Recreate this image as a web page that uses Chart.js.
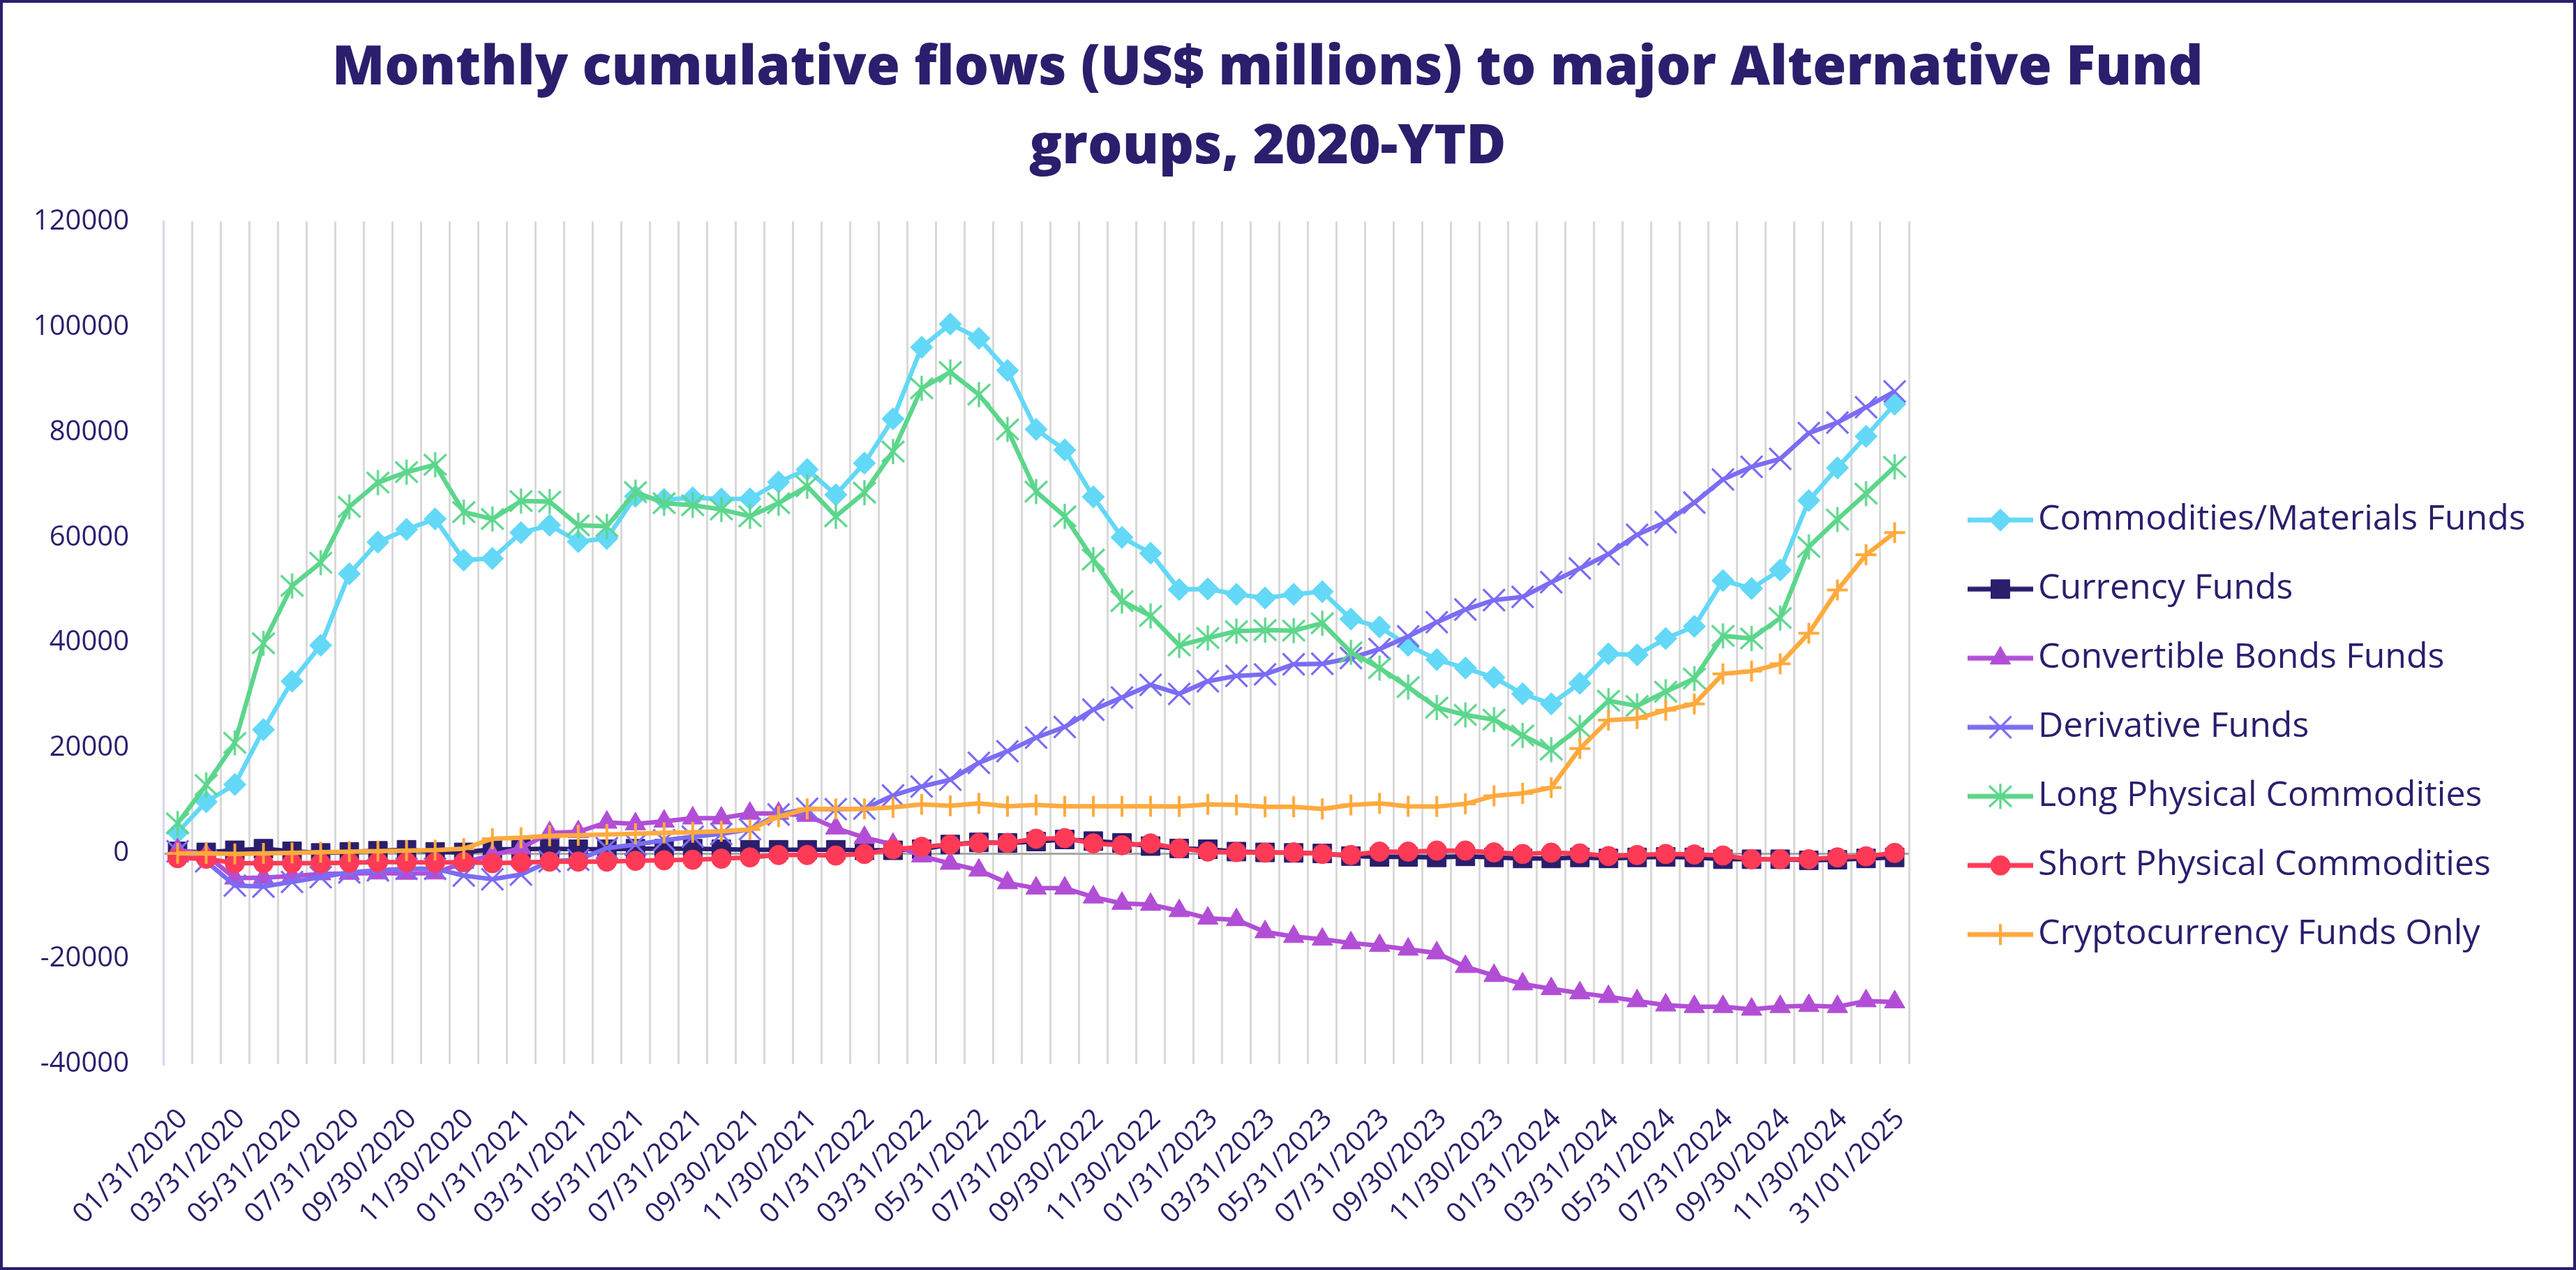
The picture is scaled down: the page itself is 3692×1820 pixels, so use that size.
<!DOCTYPE html>
<html>
<head>
<meta charset="utf-8">
<title>Monthly cumulative flows to major Alternative Fund groups</title>
<script src="https://cdn.jsdelivr.net/npm/chart.js@4.4.1/dist/chart.umd.min.js"></script>
<style>
    html, body { margin: 0; padding: 0; background: #fff; }
    #frame { width: 3692px; height: 1820px; box-sizing: border-box; border: 4px solid #2b1e6d; background: #fff; }
    canvas { display: block; }
</style>
</head>
<body>
<div id="frame"><canvas id="myCanvas" width="3684" height="1812"></canvas></div>
<script>
const months = [
    '01/31/2020', '02/29/2020', '03/31/2020', '04/30/2020', '05/31/2020', '06/30/2020',
    '07/31/2020', '08/31/2020', '09/30/2020', '10/31/2020', '11/30/2020', '12/31/2020',
    '01/31/2021', '02/28/2021', '03/31/2021', '04/30/2021', '05/31/2021', '06/30/2021',
    '07/31/2021', '08/31/2021', '09/30/2021', '10/31/2021', '11/30/2021', '12/31/2021',
    '01/31/2022', '02/28/2022', '03/31/2022', '04/30/2022', '05/31/2022', '06/30/2022',
    '07/31/2022', '08/31/2022', '09/30/2022', '10/31/2022', '11/30/2022', '12/31/2022',
    '01/31/2023', '02/28/2023', '03/31/2023', '04/30/2023', '05/31/2023', '06/30/2023',
    '07/31/2023', '08/31/2023', '09/30/2023', '10/31/2023', '11/30/2023', '12/31/2023',
    '01/31/2024', '02/29/2024', '03/31/2024', '04/30/2024', '05/31/2024', '06/30/2024',
    '07/31/2024', '08/31/2024', '09/30/2024', '10/31/2024', '11/30/2024', '12/31/2024',
    '31/01/2025'
];

const commodities = [
    4000, 9800, 13100, 23500, 32700, 39500, 53100, 59100, 61500, 63500, 55700, 56000,
    60900, 62300, 59200, 59800, 67800, 67200, 67500, 67300, 67300, 70500, 72900, 68100,
    74100, 82500, 96100, 100500, 97800, 91700, 80500, 76600, 67700, 60000, 57000, 50100,
    50200, 49200, 48500, 49200, 49700, 44500, 43000, 39500, 36800, 35200, 33400, 30300,
    28400, 32300, 37900, 37700, 40800, 43100, 51800, 50300, 53800, 67000, 73200, 79200,
    85300
];
const currency = [
    400, 200, 600, 900, 400, 100, 300, 500, 700, 300, 200, 800,
    800, 900, 800, 800, 900, 900, 900, 800, 700, 700, 700, 700,
    600, 600, 800, 1700, 2100, 2000, 2250, 2650, 2350, 2000, 1400, 950,
    800, 350, 200, 100, 0, -500, -650, -650, -750, -550, -750, -950,
    -950, -750, -950, -750, -650, -750, -1100, -1100, -1100, -1300, -1200, -950,
    -750
];
const convertible = [
    700, -300, -4700, -4600, -4300, -3900, -3800, -3750, -3800, -3750, -1700, -300,
    1000, 3900, 4100, 5900, 5600, 6100, 6700, 6700, 7600, 7600, 7200, 4800,
    3000, 1700, -500, -1900, -3200, -5600, -6600, -6600, -8300, -9500, -9700, -10900,
    -12300, -12600, -14900, -15800, -16300, -17000, -17500, -18200, -18900, -21500, -23200, -24800,
    -25700, -26500, -27200, -28000, -28800, -29100, -29100, -29600, -29100, -28900, -29100, -28000,
    -28200
];
const derivative = [
    400, -1500, -6100, -6300, -5400, -4500, -3600, -3200, -2900, -2900, -4200, -4900,
    -4000, -1500, -1200, 1000, 1700, 2500, 3200, 3700, 4600, 7400, 8500, 8400,
    8500, 11000, 12700, 14000, 17200, 19400, 22000, 24000, 27300, 29600, 32000, 30300,
    32700, 33700, 34000, 35900, 36000, 37100, 38800, 41200, 43900, 46300, 48100, 48700,
    51500, 54100, 56800, 60500, 62900, 66600, 71000, 73400, 74900, 79800, 81800, 84700,
    87700
];
const longPhysical = [
    5700, 13000, 21000, 39900, 50800, 55200, 65800, 70400, 72400, 73800, 64800, 63500,
    66900, 66800, 62300, 62100, 68600, 66500, 66100, 65300, 64000, 66500, 69700, 64000,
    68500, 76300, 88300, 91400, 87100, 80500, 68700, 64000, 55800, 47900, 45100, 39500,
    40900, 42200, 42400, 42300, 43700, 38200, 35200, 31600, 27700, 26300, 25400, 22400,
    19700, 23900, 29000, 28000, 30700, 33200, 41300, 40800, 44700, 58200, 63400, 68300,
    73400
];
const shortPhysical = [
    -900, -1000, -1850, -1850, -1850, -1850, -1750, -1650, -1650, -1700, -1650, -1850,
    -1700, -1550, -1550, -1550, -1400, -1300, -1200, -1000, -750, -300, -300, -400,
    -100, 800, 1250, 1700, 2000, 2000, 2800, 2900, 1900, 1550, 1900, 950,
    350, 250, 150, 200, -100, -300, 350, 350, 550, 550, 200, -100,
    150, 0, -500, -300, -100, -200, -400, -1100, -1100, -1100, -750, -550,
    100
];
const crypto = [
    0, 0, -100, 0, 100, 250, 350, 450, 550, 650, 900, 2800,
    3000, 3350, 3450, 3600, 3750, 3900, 4000, 4200, 4550, 7000, 8450, 8450,
    8450, 8750, 9300, 9050, 9500, 8950, 9200, 8950, 8950, 8950, 8950, 8900,
    9300, 9200, 8850, 8850, 8450, 9200, 9500, 8950, 8900, 9400, 10950, 11400,
    12500, 19900, 25300, 25600, 27200, 28400, 34100, 34600, 36000, 41800, 50000, 56700,
    60900
];

const seriesNames = [
    'Commodities/Materials Funds', 'Currency Funds', 'Convertible Bonds Funds', 'Derivative Funds',
    'Long Physical Commodities', 'Short Physical Commodities', 'Cryptocurrency Funds Only'
];
const yTicks = { min: -40000, max: 120000, step: 20000 };

const NAVY = '#2b1e6d';
const FONT = "'Open Sans', 'Noto Sans', sans-serif";

// Excel "star" marker: an X with a vertical bar
function asteriskMarker(color) {
    const c = document.createElement('canvas');
    c.width = 38;
    c.height = 38;
    const g = c.getContext('2d');
    g.strokeStyle = color;
    g.lineWidth = 3.2;
    g.beginPath();
    g.moveTo(3, 4); g.lineTo(35, 34);
    g.moveTo(35, 4); g.lineTo(3, 34);
    g.moveTo(19, 1); g.lineTo(19, 37);
    g.stroke();
    return c;
}

const styles = [
    {color: '#63d8f7', pointStyle: 'rectRot', radius: 16, pw: 1},
    {color: NAVY, pointStyle: 'rect', radius: 19, pw: 1},
    {color: '#b24ed6', pointStyle: 'triangle', radius: 17, pw: 1},
    {color: '#7b6cf4', pointStyle: 'crossRot', radius: 22, pw: 3.2},
    {color: '#5cd68b', pointStyle: asteriskMarker('#5cd68b'), radius: 16, pw: 3.2},
    {color: '#ff3a57', pointStyle: 'circle', radius: 14, pw: 1},
    {color: '#ffaa3e', pointStyle: 'cross', radius: 15, pw: 4}
];
const seriesValues = [commodities, currency, convertible, derivative, longPhysical, shortPhysical, crypto];

// legend geometry (canvas px)
const CANVAS_W = 3684;
const PLOT_RIGHT = 2732;
const LEGEND_PAD = 49;
const LEGEND_FONT = 50;
const SWATCH_LEFT = 2816;   // where the legend line starts
const SWATCH_LEN = 94;
const TEXT_LEFT = 2917;
const BOX_W = TEXT_LEFT - LEGEND_FONT / 2 - (PLOT_RIGHT + LEGEND_PAD);
const BOX_CX = PLOT_RIGHT + LEGEND_PAD + BOX_W / 2;
const ICON_W = 2 * (SWATCH_LEFT + SWATCH_LEN - BOX_CX);
const LINE_X0 = SWATCH_LEFT - (BOX_CX - ICON_W / 2);

// legend swatch: short line with the marker in the middle
function legendIcon(st) {
    const c = document.createElement('canvas');
    c.width = Math.round(ICON_W);
    c.height = 44;
    const g = c.getContext('2d');
    const mx = LINE_X0 + SWATCH_LEN / 2;
    g.strokeStyle = st.color;
    g.lineWidth = 7;
    g.beginPath();
    g.moveTo(LINE_X0, 22);
    g.lineTo(LINE_X0 + SWATCH_LEN, 22);
    g.stroke();
    if (typeof st.pointStyle === 'object') {
        g.drawImage(st.pointStyle, mx - st.pointStyle.width / 2, 22 - st.pointStyle.height / 2);
    } else {
        g.fillStyle = st.color;
        g.lineWidth = st.pw;
        Chart.helpers.drawPoint(g, {pointStyle: st.pointStyle, radius: st.radius, rotation: 0, borderWidth: st.pw}, mx, 22);
    }
    return c;
}

const datasets = seriesValues.map((vals, i) => ({
    label: seriesNames[i],
    data: vals,
    borderColor: styles[i].color,
    backgroundColor: styles[i].color,
    borderWidth: 6.5,
    pointStyle: styles[i].pointStyle,
    pointRadius: styles[i].radius,
    pointBackgroundColor: styles[i].color,
    pointBorderColor: styles[i].color,
    pointBorderWidth: styles[i].pw,
    tension: 0,
    order: seriesValues.length - 1 - i
}));

const measure = document.createElement('canvas').getContext('2d');
measure.font = LEGEND_FONT + "px 'Open Sans'";
const textW = Math.max(...seriesNames.map(s => measure.measureText(s).width));
const padRight = Math.max(0, CANVAS_W - PLOT_RIGHT - (LEGEND_PAD + BOX_W + LEGEND_FONT / 2 + textW + 10));

const ctx = document.getElementById('myCanvas');
new Chart(ctx, {
    type: 'line',
    data: {
        labels: months,
        datasets: datasets
    },
    options: {
        responsive: false,
        animation: false,
        layout: {padding: {left: 0, right: padRight, top: 0, bottom: 0}},
        plugins: {
            title: {
                display: true,
                text: ['Monthly cumulative flows (US$ millions) to major Alternative Fund', 'groups, 2020-YTD'],
                color: NAVY,
                font: {family: FONT, size: 78, weight: 800, lineHeight: 1.45},
                padding: {top: 38, bottom: 49}
            },
            legend: {
                position: 'right',
                align: 'start',
                fullSize: false,
                title: {display: true, text: ' ', font: {size: 10, lineHeight: 1}, padding: {top: 344, bottom: 0}},
                labels: {
                    usePointStyle: true,
                    pointStyleWidth: BOX_W,
                    padding: LEGEND_PAD,
                    color: NAVY,
                    font: {family: FONT, size: LEGEND_FONT, lineHeight: 1},
                    generateLabels: function (chart) {
                        return chart.data.datasets.map((ds, i) => ({
                            text: ds.label,
                            fontColor: NAVY,
                            fillStyle: ds.borderColor,
                            strokeStyle: ds.borderColor,
                            lineWidth: 0,
                            hidden: false,
                            pointStyle: legendIcon(styles[i]),
                            datasetIndex: i
                        }));
                    }
                }
            },
            tooltip: {enabled: false}
        },
        scales: {
            x: {
                offset: true,
                grid: {display: true, offset: true, color: '#d9d9d9', lineWidth: 3, drawTicks: false},
                border: {display: false},
                ticks: {
                    autoSkip: false,
                    minRotation: 45,
                    maxRotation: 45,
                    padding: 55,
                    labelOffset: 8,
                    color: NAVY,
                    font: {family: FONT, size: 40},
                    callback: function (val, idx) {
                        return idx % 2 === 0 ? months[idx] : '';
                    }
                },
                afterFit: function (scale) {
                    scale.height = 291;
                }
            },
            y: {
                min: yTicks.min,
                max: yTicks.max,
                grid: {
                    drawTicks: false,
                    lineWidth: 3,
                    color: c => (c.tick && c.tick.value === 0) ? '#a6a6a6' : 'rgba(0,0,0,0)'
                },
                border: {display: true, color: '#d8d5f3', width: 3},
                ticks: {
                    stepSize: yTicks.step,
                    padding: 49,
                    color: NAVY,
                    font: {family: FONT, size: 40},
                    callback: v => String(v)
                },
                afterFit: function (scale) {
                    scale.width = 230;
                }
            }
        }
    }
});
</script>
</body>
</html>
